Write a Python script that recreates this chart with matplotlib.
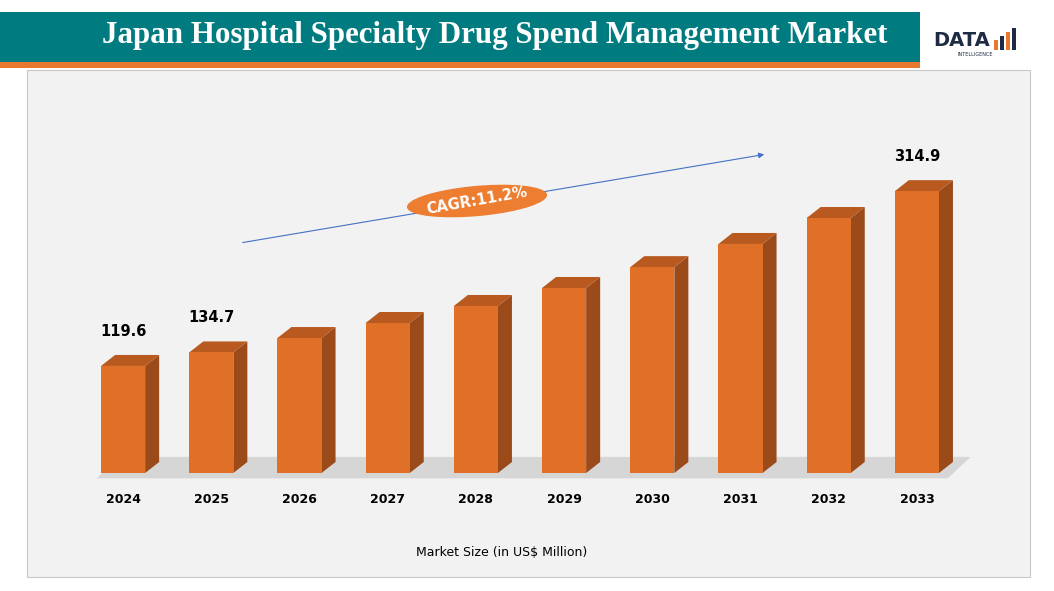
import matplotlib
matplotlib.use("Agg")
import matplotlib.pyplot as plt
from matplotlib.patches import Polygon, Rectangle, Ellipse, FancyArrowPatch

years = ["2024","2025","2026","2027","2028","2029","2030","2031","2032","2033"]
values = [119.6,134.7,150.8,167.6,186.6,206.7,230.0,255.9,284.9,314.9]
labeled = {0: "119.6", 1: "134.7", 9: "314.9"}

W, H = 1054, 591
fig = plt.figure(figsize=(W/100, H/100), dpi=100)
fig.patch.set_facecolor("white")

def fx(px): return px / W
def fy(py): return 1 - py / H

fig.add_artist(Rectangle((fx(27), fy(577)), fx(1030)-fx(27), fy(70)-fy(577),
                         transform=fig.transFigure, facecolor="#f2f2f2", edgecolor="#c8c8c8", lw=0.8, zorder=0))
fig.add_artist(Rectangle((0, fy(62)), fx(920), fy(12)-fy(62), transform=fig.transFigure,
                         facecolor="#007b7f", edgecolor="none", zorder=0))
fig.add_artist(Rectangle((0, fy(68)), fx(920), fy(62)-fy(68), transform=fig.transFigure,
                         facecolor="#e8782e", edgecolor="none", zorder=0))
fig.text(fx(495), fy(35), "Japan Hospital Specialty Drug Spend Management Market",
         ha="center", va="center", color="white", fontsize=22.3, fontweight="bold",
         family="Liberation Serif")
fig.text(fx(933), fy(40), "DATA", ha="left", va="center", color="#1f2a44", fontsize=14,
         fontweight="bold", family="DejaVu Sans")
for i, (h, c) in enumerate([(10, "#e8782e"), (14, "#1f2a44"), (18, "#e8782e"), (22, "#1f2a44")]):
    fig.add_artist(Rectangle((fx(994 + i*6), fy(50)), fx(4), h/H, transform=fig.transFigure,
                             facecolor=c, edgecolor="none"))
fig.text(fx(975), fy(55), "INTELLIGENCE", ha="center", va="center", color="#1f2a44", fontsize=3.5)

ax = fig.add_axes([fx(79), fy(473), fx(961)-fx(79), fy(100)-fy(473)])
ax.set_zorder(2)
ax.patch.set_visible(False)
ax.set_xlim(-0.5, 9.5)
ax.set_ylim(0, 373/0.895)
ax.axis("off")

hw = 0.25
dx = 14/88.2
dy = 11/0.895

ax.add_patch(Polygon([(-0.3, -6), (9.35, -6), (9.45+dx, 18), (-0.2+dx, 18)],
                     closed=True, facecolor="#d6d6d6", edgecolor="none", zorder=1, clip_on=False))

front = "#e07028"
side = "#9b4a1a"
top = "#b85a20"
for i, v in enumerate(values):
    ax.add_patch(Polygon([(i+hw, 0), (i+hw+dx, dy), (i+hw+dx, v+dy), (i+hw, v)],
                         closed=True, facecolor=side, edgecolor="none", zorder=2))
    ax.add_patch(Polygon([(i-hw, v), (i+hw, v), (i+hw+dx, v+dy), (i-hw+dx, v+dy)],
                         closed=True, facecolor=top, edgecolor="none", zorder=2))
    ax.add_patch(Rectangle((i-hw, 0), 2*hw, v, facecolor=front, edgecolor="none", zorder=3))
    if i in labeled:
        ax.text(i, v + dy + 18, labeled[i], ha="center", va="bottom", fontsize=10.5,
                fontweight="bold", color="black")
    ax.text(i, -30, years[i], ha="center", va="center", fontsize=9, fontweight="bold", clip_on=False)

fig.text(fx(502), fy(553), "Market Size (in US$ Million)", ha="center", va="center", fontsize=9)

fig.add_artist(FancyArrowPatch((fx(240), fy(243)), (fx(767), fy(154)), transform=fig.transFigure,
                               arrowstyle="-|>", mutation_scale=8, color="#4472c4", lw=0.8, zorder=3))
fig.add_artist(Ellipse((fx(477), fy(201)), fx(142), 30/H, angle=10, transform=fig.transFigure,
                       facecolor="#ed7d31", edgecolor="none", zorder=4))
fig.text(fx(477), fy(201), "CAGR:11.2%", ha="center", va="center", rotation=10,
         color="white", fontsize=10.5, fontweight="bold", zorder=5)

fig.savefig("out.png", dpi=100)
